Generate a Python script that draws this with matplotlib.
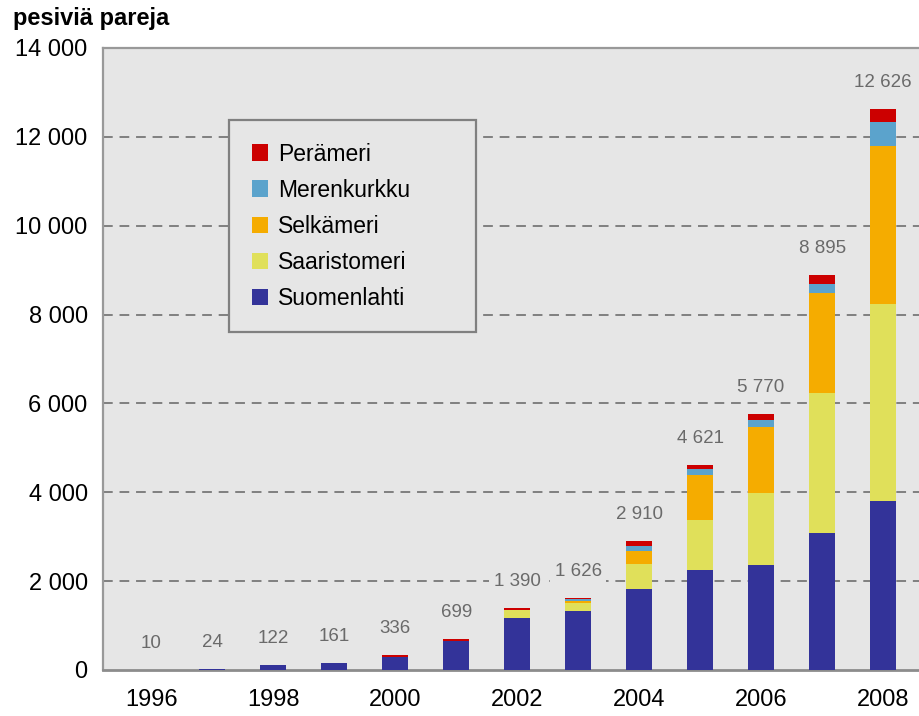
import matplotlib
matplotlib.use("Agg")
import matplotlib.pyplot as plt
from matplotlib.patches import Patch
import numpy as np

plt.rcParams['font.family'] = ['Liberation Sans', 'DejaVu Sans']

years = [1996, 1997, 1998, 1999, 2000, 2001, 2002, 2003, 2004, 2005, 2006, 2007, 2008]
suomenlahti = [10, 24, 122, 161, 300, 650, 1180, 1330, 1830, 2250, 2370, 3090, 3800]
saaristomeri = [0, 0, 0, 0, 0, 0, 160, 170, 560, 1120, 1620, 3150, 4430]
selkameri = [0, 0, 0, 0, 0, 0, 15, 60, 290, 1010, 1480, 2240, 3560]
merenkurkku = [0, 0, 0, 0, 0, 0, 5, 30, 100, 150, 150, 200, 550]
peramer = [0, 0, 0, 0, 36, 49, 30, 36, 130, 91, 150, 215, 286]
totals = [10, 24, 122, 161, 336, 699, 1390, 1626, 2910, 4621, 5770, 8895, 12626]
total_labels = ["10", "24", "122", "161", "336", "699", "1 390", "1 626", "2 910",
                "4 621", "5 770", "8 895", "12 626"]
series_names = ["Suomenlahti", "Saaristomeri", "Selkämeri", "Merenkurkku", "Perämeri"]
series_colors = ["#333399", "#e0e05a", "#f5ac00", "#5ba3cc", "#cc0000"]
yticks = [0, 2000, 4000, 6000, 8000, 10000, 12000, 14000]
ytick_labels = ["0", "2 000", "4 000", "6 000", "8 000", "10 000", "12 000", "14 000"]
xticks = [1996, 1998, 2000, 2002, 2004, 2006, 2008]

fig = plt.figure(figsize=(9.19, 7.16), dpi=100)
ax = fig.add_axes([103/919, 1-670/716, 1-103/919 + 0.01, (670-48)/716])
ax.set_facecolor("#e6e6e6")

series = [suomenlahti, saaristomeri, selkameri, merenkurkku, peramer]
bottom = np.zeros(len(years))
for vals, col, name in zip(series, series_colors, series_names):
    ax.bar(years, vals, width=0.42, bottom=bottom, color=col, zorder=3, label=name)
    bottom += np.array(vals)

for x, top, lab in zip(years, bottom, total_labels):
    ax.annotate(lab, (x, top), xytext=(0, 19), textcoords="offset points",
                ha="center", va="center", fontsize=13.5, color="#6a6a6a", zorder=4,
                bbox=dict(boxstyle="square,pad=0.25", facecolor="#e6e6e6",
                          edgecolor="none"))

ax.set_xlim(1995.21, 2008.59 + 0.15)
ax.set_ylim(0, 14000)
ax.set_yticks(yticks)
ax.set_yticklabels(ytick_labels)
ax.set_xticks(xticks)
ax.set_xticklabels([str(x) for x in xticks])
ax.tick_params(axis="both", length=0, labelsize=17, colors="black")
ax.tick_params(axis="y", pad=11)
ax.tick_params(axis="x", pad=14)

for y in yticks[1:-1]:
    ax.axhline(y, color="#808080", lw=1.4, linestyle=(0, (5, 3.5)), zorder=1)

for s in ["top", "left"]:
    ax.spines[s].set_color("#999999")
    ax.spines[s].set_linewidth(1.6)
ax.spines["bottom"].set_color("#8c8c8c")
ax.spines["bottom"].set_linewidth(2)
ax.spines["right"].set_visible(False)

handles = [Patch(facecolor=c, edgecolor="none") for c in series_colors[::-1]]
leg = ax.legend(handles, series_names[::-1], loc="upper left",
                bbox_to_anchor=(0.153, 0.543, 0.299, 0.341), mode="expand",
                fontsize=16.5,
                handlelength=0.72, handleheight=0.72, handletextpad=0.44,
                labelspacing=0.57, borderpad=0.98, borderaxespad=0,
                frameon=True, fancybox=False, facecolor="#e6e6e6",
                edgecolor="#808080", framealpha=1)
leg.get_frame().set_linewidth(1.6)
leg.set_zorder(5)

fig.text(13/919, 1-18/716, "pesiviä pareja", fontsize=17, fontweight="bold",
         ha="left", va="center")

fig.savefig("out.png", dpi=100)
